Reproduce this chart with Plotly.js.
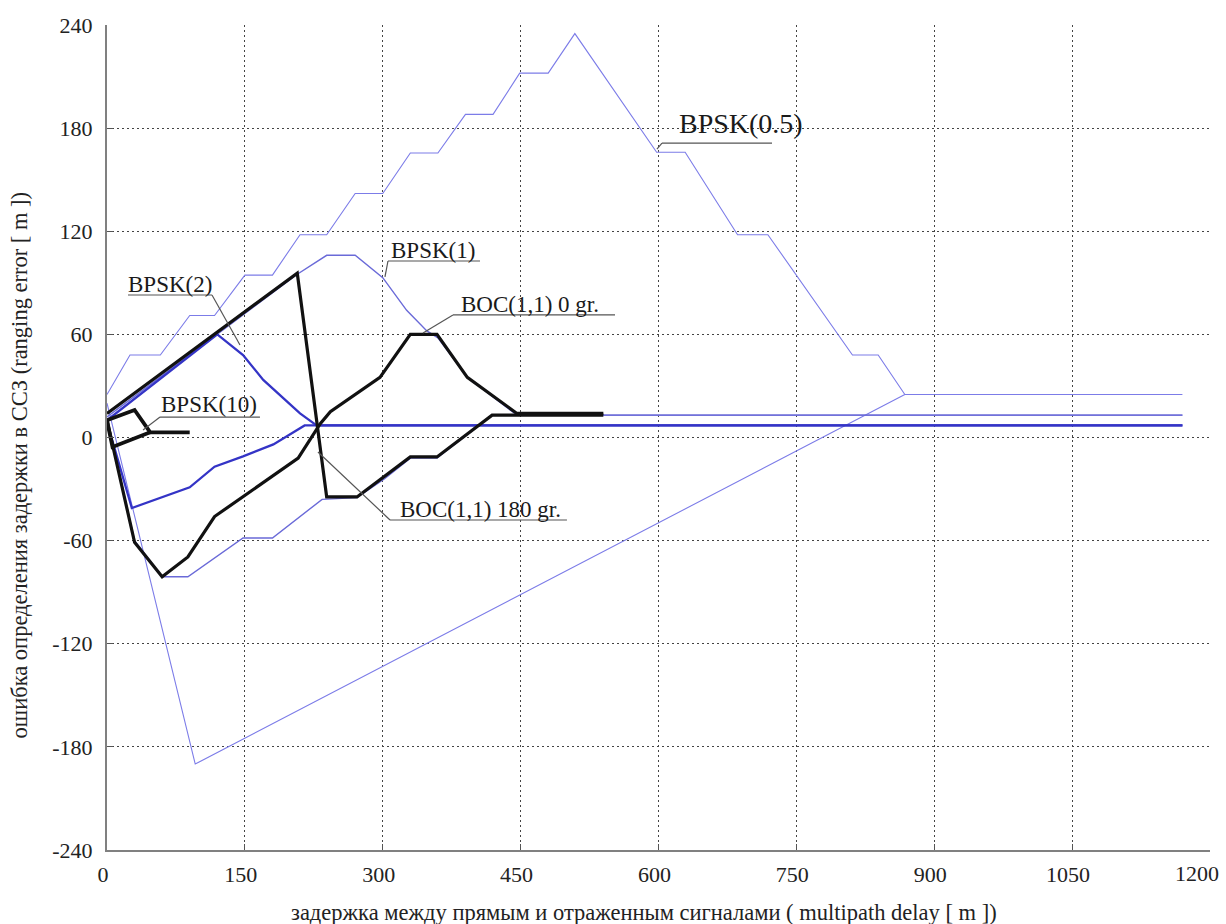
<!DOCTYPE html>
<html>
<head>
<meta charset="utf-8">
<script src="https://cdn.plot.ly/plotly-3.0.1.min.js"></script>
<style>html,body{margin:0;padding:0;background:#fff;}#chart{width:1226px;height:924px;}</style>
</head>
<body>
<div id="chart"></div>
<script>
// ---- data ----
const bpsk05UpperX = [0,25,58,90,117,150,180,210,239,270,300,330,360,390,420,449,480,509,598,629,686,719,811,839,868,1170];
const bpsk05UpperY = [25,48,48,71,71,94.5,94.5,118,118,142,142,165.5,165.5,188,188,212,212,235,166,166,118,118,48,48,25,25];
const bpsk05LowerX = [0,96,868];
const bpsk05LowerY = [20,-190,25];

const bpsk1UpperX = [0,207,239,270,300,326,348,360,392,446,1170];
const bpsk1UpperY = [12,95,106,106,93,74,62,58,35,13,13];
const bpsk1LowerX = [0,30,60,88,148,180,234,272,302,330,359,419,1170];
const bpsk1LowerY = [11,-60,-81,-81,-58.5,-58.5,-36,-35,-24,-12,-12,13,13];

const bpsk2UpperX = [0,120,148,170,210,228,1170];
const bpsk2UpperY = [10,60,48,33.5,14,7,7];
const bpsk2LowerX = [0,27,90,117,148,181,215,1170];
const bpsk2LowerY = [9,-41,-29,-17,-11,-4,7,7];

const boc0X = [0,30,60,88,117,148,208,232,243,297,330,359,392,446,540];
const boc0Y = [10,-61,-81,-69.5,-46,-34.6,-12,8,15,35,60,60,35,14,14];

const boc180X = [0,207,239,272,330,359,419,540];
const boc180Y = [14,95.6,-34.6,-34.6,-11.3,-11.3,13,13];

const bpsk10UpperX = [0,30,47,90];
const bpsk10UpperY = [10,16,3,3];
const bpsk10LowerX = [0,6,47];
const bpsk10LowerY = [10,-5.5,3];

const xTicks = [0,150,300,450,600,750,900,1050,1200];
const yTicks = [-240,-180,-120,-60,0,60,120,180,240];

const labelTexts = ['BPSK(0.5)','BPSK(1)','BOC(1,1) 0 gr.','BOC(1,1) 180 gr.','BPSK(2)','BPSK(10)'];
const xTitle = 'задержка между прямым и отраженным сигналами ( multipath delay [ m ])';
const yTitle = 'ошибка определения задержки в ССЗ (ranging error [ m ])';

// ---- traces ----
function line(x, y, color, width) {
  return {x: x, y: y, type: 'scatter', mode: 'lines', hoverinfo: 'skip',
          line: {color: color, width: width}, showlegend: false};
}
const c05 = '#7c7ce8', c1 = '#6a6ad8', c2 = '#3434c6', cb = '#111111';
const traces = [
  line(bpsk05UpperX, bpsk05UpperY, c05, 1.1),
  line(bpsk05LowerX, bpsk05LowerY, c05, 1.1),
  line(bpsk1UpperX, bpsk1UpperY, c1, 1.4),
  line(bpsk1LowerX, bpsk1LowerY, c1, 1.4),
  line(bpsk2UpperX, bpsk2UpperY, c2, 2.3),
  line(bpsk2LowerX, bpsk2LowerY, c2, 2.3),
  line(boc0X, boc0Y, cb, 3.2),
  line(boc180X, boc180Y, cb, 3.2),
  line(bpsk10UpperX, bpsk10UpperY, cb, 3.8),
  line(bpsk10LowerX, bpsk10LowerY, cb, 3.8)
];

// ---- labels with leader lines (layout positions) ----
const labelPos = [
  {x: 690, y: 182.8, size: 28, lead: [[723.5,171.3],[603.8,171.3],[598.3,167.8]]},
  {x: 354.7, y: 108.8, size: 23, lead: [[405.8,102.7],[305.7,102.7],[302.4,93.4]]},
  {x: 460, y: 77.4, size: 23, lead: [[552.7,71.3],[376.4,71.3],[343.8,60.8]]},
  {x: 406, y: -41.8, size: 23, lead: [[500.4,-48],[307.9,-48],[229.5,-8.4]]},
  {x: 68.5, y: 89, size: 23, lead: [[22.8,82.9],[114.2,82.9],[144.7,53.8]]},
  {x: 111, y: 19.2, size: 23, lead: [[166.4,11.9],[57.7,11.9],[39.2,4.4]]}
];

const fontFam = 'Liberation Serif, Times New Roman, serif';
const annotations = labelPos.map((p, i) => ({
  x: p.x, y: p.y, xref: 'x', yref: 'y', text: labelTexts[i], showarrow: false,
  xanchor: 'center', yanchor: 'middle',
  font: {family: fontFam, size: p.size, color: '#1a1a1a'}
}));
// axis titles placed as annotations to match the reference's off-centre positions
annotations.push({
  x: 0.487, y: -0.0752, xref: 'paper', yref: 'paper', text: xTitle, showarrow: false,
  xanchor: 'center', yanchor: 'middle',
  font: {family: fontFam, size: 22.5, color: '#222'}
});
annotations.push({
  x: -0.079, y: 0.466, xref: 'paper', yref: 'paper', text: yTitle, showarrow: false,
  xanchor: 'center', yanchor: 'middle', textangle: -90,
  font: {family: fontFam, size: 22.5, color: '#222'}
});
// last x tick label, drawn slightly left of its tick (as in the reference) so it stays inside the page
const lastTick = xTicks[xTicks.length - 1];
annotations.push({
  x: 0.988, y: -0.029, xref: 'paper', yref: 'paper', text: String(lastTick), showarrow: false,
  xanchor: 'center', yanchor: 'middle',
  font: {family: fontFam, size: 22, color: '#222'}
});

const shapes = [];
labelPos.forEach(p => {
  for (let k = 0; k < p.lead.length - 1; k++) {
    shapes.push({type: 'line', xref: 'x', yref: 'y',
      x0: p.lead[k][0], y0: p.lead[k][1], x1: p.lead[k+1][0], y1: p.lead[k+1][1],
      line: {color: '#555', width: 1.2}});
  }
});

const layout = {
  width: 1226, height: 924,
  margin: {l: 107, r: 16, t: 25, b: 74},
  paper_bgcolor: '#ffffff', plot_bgcolor: '#ffffff',
  showlegend: false,
  font: {family: fontFam, size: 22, color: '#222'},
  xaxis: {
    range: [0, 1200.001], tickvals: xTicks,
    ticktext: xTicks.map(v => v === lastTick ? '' : String(v)),
    showgrid: true, gridcolor: '#444', griddash: '2px,3px', gridwidth: 1.2,
    zeroline: false, showline: true, linecolor: '#808080', linewidth: 2,
    ticks: 'inside', ticklen: 6, tickcolor: '#555', mirror: false,
    ticklabelstandoff: 4, ticklabelshift: -4,
    tickfont: {family: fontFam, size: 22, color: '#222'}
  },
  yaxis: {
    range: [-240, 240.001], tickvals: yTicks, ticktext: yTicks.map(String),
    showgrid: true, gridcolor: '#444', griddash: '2px,3px', gridwidth: 1.2,
    zeroline: false, showline: true, linecolor: '#808080', linewidth: 2,
    ticks: 'inside', ticklen: 6, tickcolor: '#555', mirror: false,
    ticklabelstandoff: 8,
    tickfont: {family: fontFam, size: 22, color: '#222'}
  },
  annotations: annotations,
  shapes: shapes
};

Plotly.newPlot('chart', traces, layout, {displayModeBar: false, staticPlot: true});
</script>
</body>
</html>
